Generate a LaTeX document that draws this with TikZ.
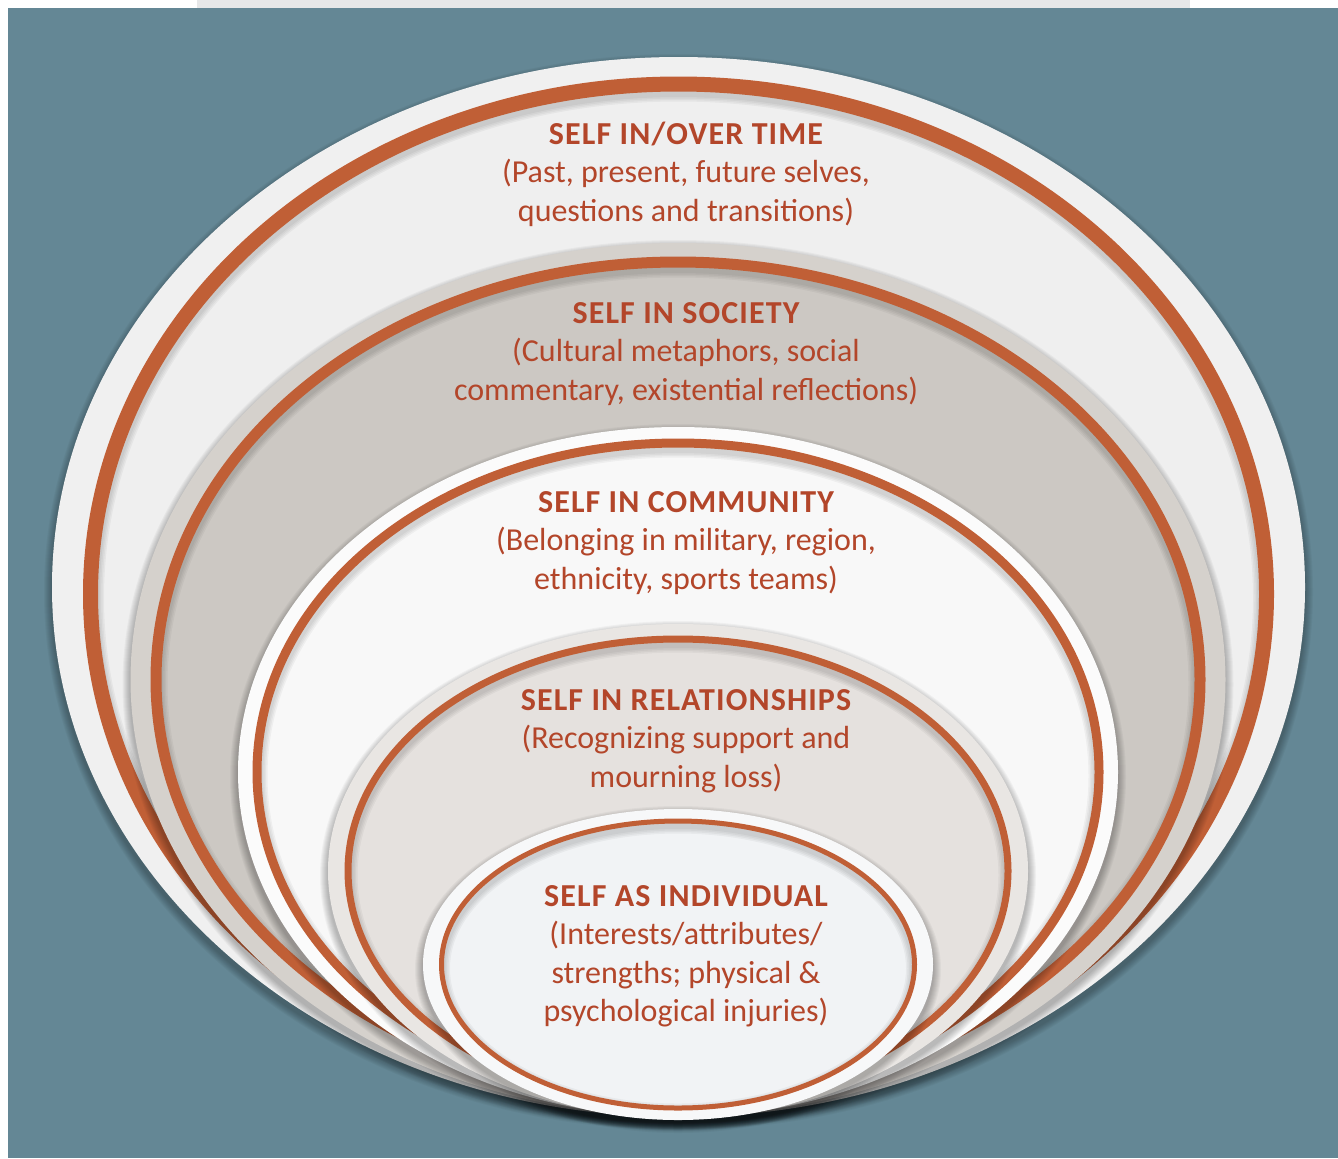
\documentclass[tikz,border=0pt]{standalone}
\usepackage{fontspec}
\setmainfont{Carlito}

\definecolor{bgblue}{HTML}{648795}
\definecolor{topstrip}{HTML}{E6E7E8}
\definecolor{rust}{HTML}{C05F36}
\definecolor{rusttext}{HTML}{B3462A}
\definecolor{bandA}{HTML}{F0F0F0}
\definecolor{fillA}{HTML}{EFEFEF}
\definecolor{bandB}{HTML}{D5D1CC}
\definecolor{fillB}{HTML}{CCC8C3}
\definecolor{bandC}{HTML}{FBFBFB}
\definecolor{fillC}{HTML}{F8F8F8}
\definecolor{bandD}{HTML}{E9E6E3}
\definecolor{fillD}{HTML}{E5E1DE}
\definecolor{bandE}{HTML}{F7F8F9}
\definecolor{fillE}{HTML}{F1F3F5}

\newcommand{\layertitle}[1]{{\bfseries\addfontfeatures{LetterSpace=3.5}#1}}

\begin{document}
\begin{tikzpicture}[x=0.5pt,y=-0.5pt,
  ring/.style={draw=rust,line width=#1*0.5pt},
  lbl/.style={text=rusttext,align=center,font=\fontsize{16}{19.25}\selectfont}]
\useasboundingbox (0,0) rectangle (1338,1158);
\fill[white] (0,0) rectangle (1338,1158);
\fill[topstrip] (197,0) rectangle (1190,8);
\fill[bgblue] (8,8) rectangle (1338,1158);

% the five layers, outside in
\foreach \cx/\cy/\rx/\ry/\band/\rcy/\rrx/\rry/\fil/\w in {
  678.5/587/626.5/530/bandA/594/588/510/fillA/15,
  678/679.5/547.5/436.5/bandB/679.5/522/417.5/fillB/11,
  678/772/440/345/bandC/772/421/329/fillC/9,
  678/871/350/247/bandD/871/330/232/fillD/7,
  678/964.5/255/155.5/bandE/964.5/236.5/143.5/fillE/5}
{
  % soft shadow
  \foreach \k in {1,...,8}
    \fill[black,opacity=0.035] (\cx,\cy+5) ellipse ({\rx+\k} and {\ry+\k});
  \fill[\band] (\cx,\cy) ellipse ({\rx} and {\ry});
  \fill[\fil] (\cx,\rcy) ellipse ({\rrx} and {\rry});
  \begin{scope}
    \clip (\cx,\rcy) ellipse ({\rrx} and {\rry});
    \foreach \k in {1,...,4}
      \draw[black,opacity=0.04,line width={(\w+3*\k)*0.5pt}] (\cx,\rcy+4) ellipse ({\rrx} and {\rry});
  \end{scope}
  \draw[ring=\w] (\cx,\rcy) ellipse ({\rrx} and {\rry});
}

\node[lbl] (time) at (686,174) {\layertitle{SELF IN/OVER TIME}\\(Past, present, future selves,\\questions and transitions)};
\node[lbl] (society) at (686,354) {\layertitle{SELF IN SOCIETY}\\(Cultural metaphors, social\\commentary, existential reflections)};
\node[lbl] (community) at (686,543) {\layertitle{SELF IN COMMUNITY}\\(Belonging in military, region,\\ethnicity, sports teams)};
\node[lbl] (relations) at (686,741) {\layertitle{SELF IN RELATIONSHIPS}\\(Recognizing support and\\mourning loss)};
\node[lbl] (individual) at (686,956) {\layertitle{SELF AS INDIVIDUAL}\\(Interests/attributes/\\strengths; physical \&\\psychological injuries)};
\end{tikzpicture}
\end{document}
